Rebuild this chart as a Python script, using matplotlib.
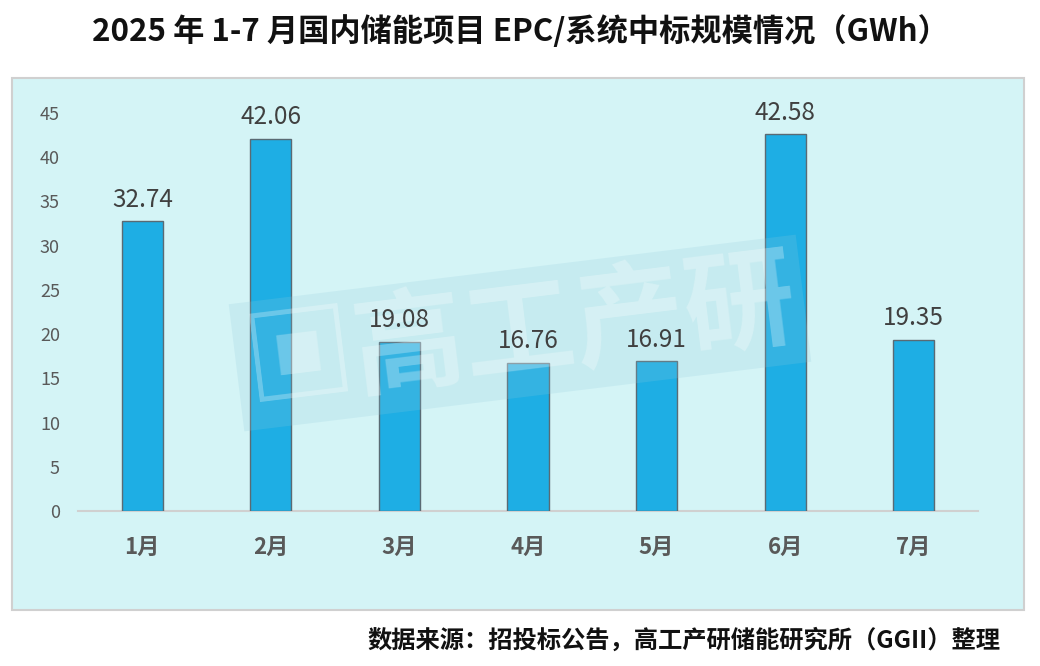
import matplotlib
matplotlib.use("Agg")
import matplotlib.pyplot as plt
from matplotlib.patches import Rectangle

plt.rcParams['font.family'] = ['Noto Sans CJK SC', 'DejaVu Sans']

# 数据
months = ['1月', '2月', '3月', '4月', '5月', '6月', '7月']
values = [32.74, 42.06, 19.08, 16.76, 16.91, 42.58, 19.35]
yticks = [0, 5, 10, 15, 20, 25, 30, 35, 40, 45]

title = '2025 年 1-7 月国内储能项目 EPC/系统中标规模情况（GWh）'
source = '数据来源：招投标公告，高工产研储能研究所（GGII）整理'

fig = plt.figure(figsize=(10.4, 6.66), dpi=100)

# 背景面板
panel = Rectangle((0.0115, 0.084), 0.973, 0.799, transform=fig.transFigure,
                  facecolor='#d4f4f6', edgecolor='#d0d0d0', linewidth=1.5, zorder=-5)
fig.patches.append(panel)

ax = fig.add_axes([0.075, 0.2327, 0.8654, 0.5976])
ax.set_facecolor('none')

x = range(len(months))
ax.bar(x, values, width=0.32, color='#1eaee4', edgecolor='#5a6a73', linewidth=1.0, zorder=3)

for i, v in enumerate(values):
    ax.text(i, v + 1.0, '{:.2f}'.format(v), ha='center', va='bottom',
            fontsize=17.5, color='#404040', zorder=5)

ax.set_xlim(-0.5, len(months) - 0.5)
ax.set_ylim(0, 45)
ax.set_yticks(yticks)
ax.set_yticklabels([str(t) for t in yticks], fontsize=13, color='#595959')
ax.set_xticks(list(x))
ax.set_xticklabels(months, fontsize=16, fontweight='bold', color='#595959')
ax.tick_params(axis='both', length=0)
ax.tick_params(axis='x', pad=18)
ax.tick_params(axis='y', pad=13)

for s in ['top', 'right', 'left']:
    ax.spines[s].set_visible(False)
ax.spines['bottom'].set_color('#d0d0d0')
ax.spines['bottom'].set_linewidth(1.5)

# 水印（在柱子之上，数据标签之下）
ax.text(0.5, 0.5, '▣高工产研', transform=fig.transFigure, fontsize=80,
        fontweight='bold', color='white', alpha=0.28, ha='center', va='center',
        rotation=7, zorder=4, clip_on=False,
        bbox=dict(facecolor='#8fc9dc', edgecolor='none', alpha=0.2, pad=6))

fig.text(0.5, 0.953, title, fontsize=22.5, fontweight='bold', color='#111111',
         ha='center', va='center')
fig.text(0.962, 0.038, source, fontsize=17.5, fontweight='bold', color='#111111',
         ha='right', va='center')

fig.savefig('out.png', dpi=100)
